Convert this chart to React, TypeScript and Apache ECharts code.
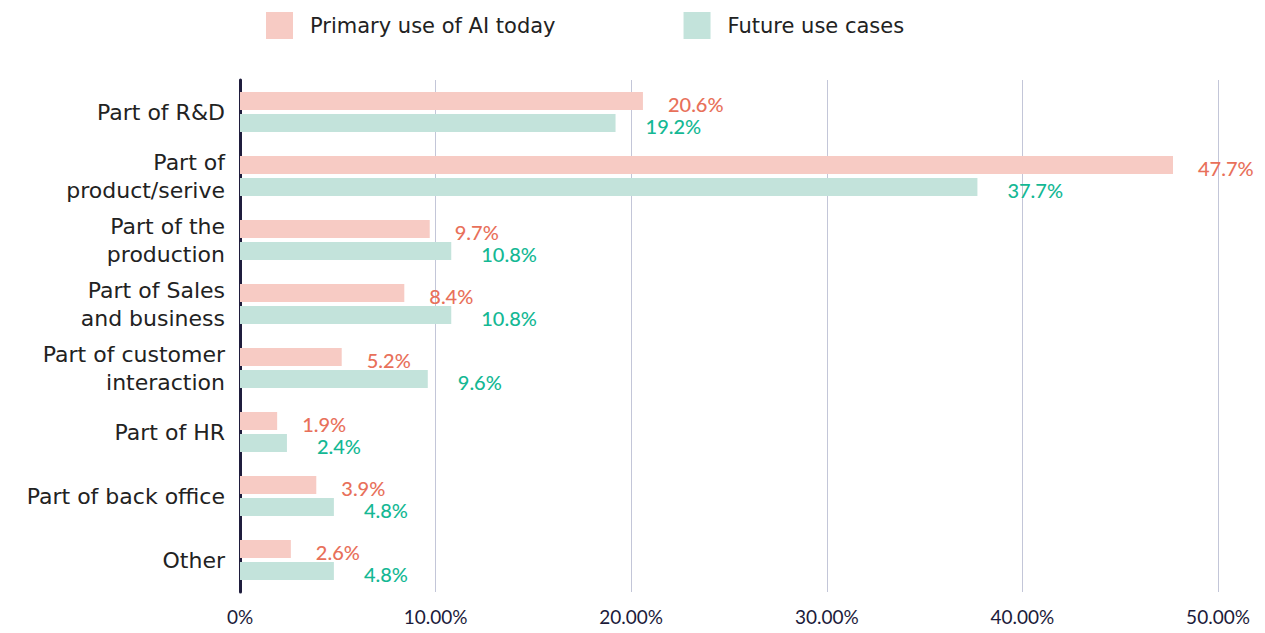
import React, { useEffect, useRef } from "react";
import * as echarts from "echarts";

const categories = [
  "Part of R&D",
  "Part of\nproduct/serive",
  "Part of the\nproduction",
  "Part of Sales\nand business",
  "Part of customer\ninteraction",
  "Part of HR",
  "Part of back office",
  "Other",
];
const primaryToday = [20.6, 47.7, 9.7, 8.4, 5.2, 1.9, 3.9, 2.6];
const futureUse = [19.2, 37.7, 10.8, 10.8, 9.6, 2.4, 4.8, 4.8];
const seriesNames = ["Primary use of AI today", "Future use cases"];

export default function App() {
  const ref = useRef<HTMLDivElement>(null);
  useEffect(() => {
    if (!ref.current) return;
    const chart = echarts.init(ref.current, null, { renderer: "svg" });
    chart.setOption({
      animation: false,
      legend: {
        top: 12,
        left: 266,
        padding: 0,
        itemWidth: 27,
        itemHeight: 27,
        itemGap: 128,
        icon: "rect",
        textStyle: { fontSize: 21, color: "#222", fontFamily: "DejaVu Sans", padding: [0, 0, 0, 12] },
        data: seriesNames,
      },
      grid: { left: 240, right: 47, top: 80, bottom: 41, containLabel: false },
      xAxis: {
        type: "value",
        min: 0,
        max: 50,
        interval: 10,
        axisLine: { show: false },
        axisTick: { show: false },
        splitLine: { show: true, lineStyle: { color: "#c3c6d8", width: 1 } },
        axisLabel: {
          fontSize: 19,
          color: "#1c1b3a",
          fontFamily: "Lato",
          margin: 15,
          formatter: (v: number) => (v === 0 ? "0%" : v.toFixed(2) + "%"),
        },
      },
      yAxis: {
        type: "category",
        inverse: true,
        data: categories,
        axisLine: { show: true, lineStyle: { color: "#1f1d3d", width: 3 } },
        axisTick: { show: false },
        axisLabel: {
          fontSize: 22,
          color: "#222",
          fontFamily: "DejaVu Sans",
          lineHeight: 28,
          margin: 15,
        },
      },
      series: [
        {
          name: seriesNames[0],
          type: "bar",
          data: primaryToday,
          barWidth: 18,
          barGap: "22%",
          itemStyle: { color: "#f7cbc4" },
          label: {
            show: true,
            position: "right",
            distance: 25,
            offset: [0, 3],
            formatter: (p: any) => p.value.toFixed(1) + "%",
            fontSize: 20,
            fontWeight: 500,
            fontFamily: "Lato",
            color: "#e8705a",
          },
        },
        {
          name: seriesNames[1],
          type: "bar",
          data: futureUse,
          barWidth: 18,
          itemStyle: { color: "#c3e3db" },
          label: {
            show: true,
            position: "right",
            distance: 30,
            offset: [0, 3],
            formatter: (p: any) => p.value.toFixed(1) + "%",
            fontSize: 20,
            fontWeight: 500,
            fontFamily: "Lato",
            color: "#14b894",
          },
        },
      ],
    });
    return () => chart.dispose();
  }, []);
  return <div ref={ref} style={{ width: 1265, height: 633, margin: -8 }} />;
}
